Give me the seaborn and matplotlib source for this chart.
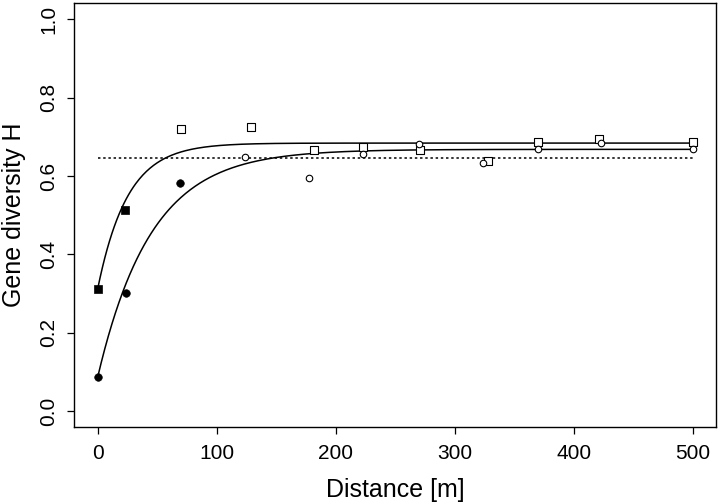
import numpy as np
import pandas as pd
import seaborn as sns
import matplotlib.pyplot as plt

# squares (steep curve); first two points drawn filled
sq_dist = [0, 23, 70, 129, 182, 223, 271, 328, 370, 421, 500]
sq_h = [0.311, 0.513, 0.719, 0.725, 0.667, 0.673, 0.667, 0.638, 0.688, 0.694, 0.686]
sq_filled = [True, True, False, False, False, False, False, False, False, False, False]

# circles (slower curve); first three points drawn filled
ci_dist = [0, 24, 69, 124, 178, 223, 270, 324, 370, 423, 500]
ci_h = [0.088, 0.302, 0.583, 0.648, 0.594, 0.657, 0.681, 0.633, 0.668, 0.684, 0.668]
ci_filled = [True, True, True, False, False, False, False, False, False, False, False]

# fitted curves H = a - (a - b) * exp(-d / c), parameters
fit_sq = dict(a=0.684, b=0.312, c=25.0)
fit_ci = dict(a=0.668, b=0.087, c=45.0)

# overall mean (dotted line)
h_mean = 0.647
mean_span = [0, 500]

sq = pd.DataFrame({'d': sq_dist, 'h': sq_h, 'filled': sq_filled})
ci = pd.DataFrame({'d': ci_dist, 'h': ci_h, 'filled': ci_filled})

sns.set_theme(style='ticks')
plt.rcParams['font.family'] = ['Liberation Sans', 'DejaVu Sans']
plt.rcParams['text.color'] = 'black'
plt.rcParams['axes.labelcolor'] = 'black'

fig = plt.figure(figsize=(7.2, 5.04), dpi=100)
ax = fig.add_axes([0.1026, 0.1528, 0.8925, 0.8403])

grid = np.linspace(0, 500, 501)
for p in (fit_sq, fit_ci):
    curve = pd.DataFrame({'d': grid, 'h': p['a'] - (p['a'] - p['b']) * np.exp(-grid / p['c'])})
    sns.lineplot(data=curve, x='d', y='h', color='black', lw=1.1, ax=ax)

sns.lineplot(x=mean_span, y=[h_mean, h_mean], color='black', lw=1.1,
             linestyle=(0, (1.6, 1.8)), ax=ax)

sns.scatterplot(data=sq[sq.filled], x='d', y='h', marker='s', s=38,
                color='black', edgecolor='black', ax=ax, zorder=3)
sns.scatterplot(data=sq[~sq.filled], x='d', y='h', marker='s', s=36,
                facecolor='white', edgecolor='black', linewidth=0.8, ax=ax, zorder=3)
sns.scatterplot(data=ci[ci.filled], x='d', y='h', marker='o', s=30,
                color='black', edgecolor='black', ax=ax, zorder=3)
sns.scatterplot(data=ci[~ci.filled], x='d', y='h', marker='o', s=22,
                facecolor='white', edgecolor='black', linewidth=0.8, ax=ax, zorder=3)

ax.set_xlim(-20, 520)
ax.set_ylim(-0.04, 1.04)
ax.set_xticks([0, 100, 200, 300, 400, 500])
ax.set_yticks([0.0, 0.2, 0.4, 0.6, 0.8, 1.0])
ax.set_yticklabels(['0.0', '0.2', '0.4', '0.6', '0.8', '1.0'], rotation=90, va='center')
ax.tick_params(direction='out', length=5, width=0.9, labelsize=15,
               colors='black', labelcolor='black')
ax.tick_params(axis='x', pad=7)
ax.tick_params(axis='y', pad=6)
for sp in ax.spines.values():
    sp.set_visible(True)
    sp.set_linewidth(1.0)
    sp.set_color('black')

ax.set_xlabel('Distance [m]', fontsize=18, labelpad=11, color='black')
ax.set_ylabel('Gene diversity H', fontsize=18, labelpad=10, color='black')

fig.savefig('out.png', dpi=100)
